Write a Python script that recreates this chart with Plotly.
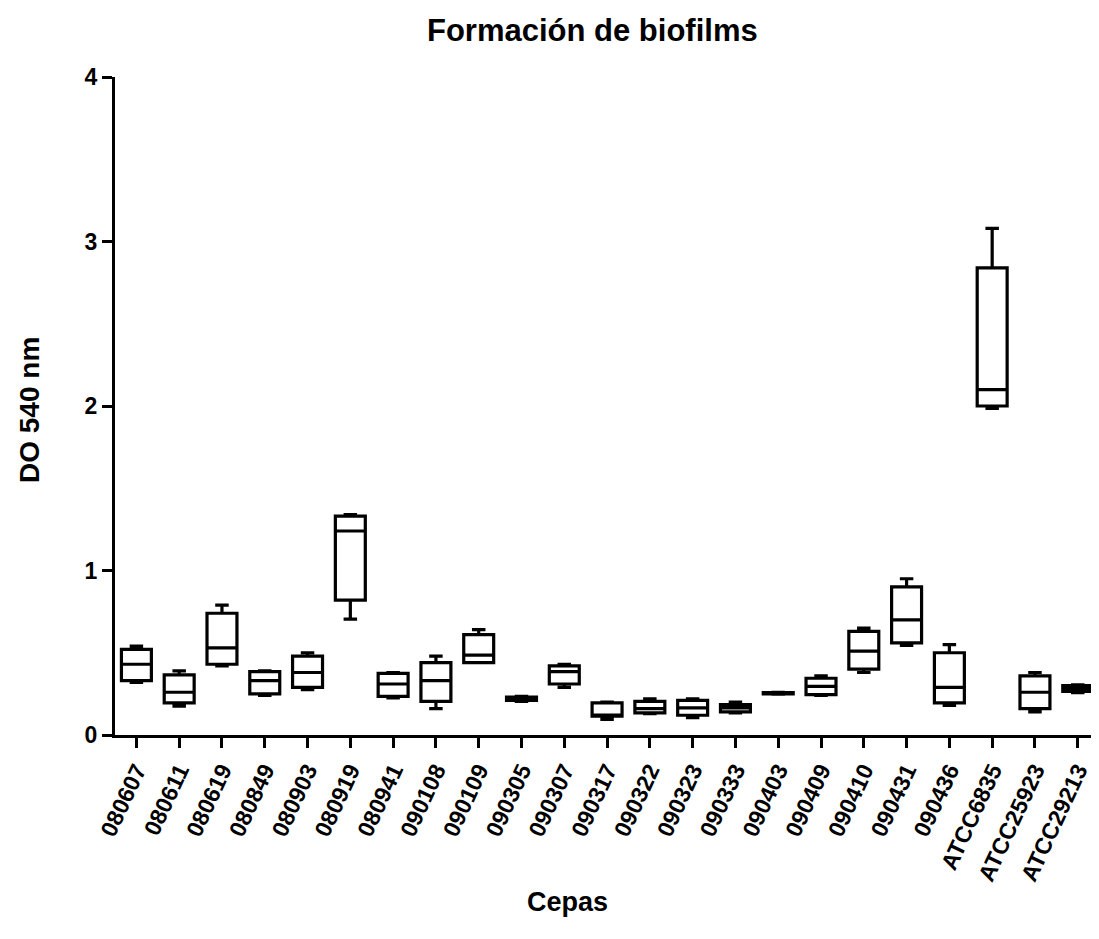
import plotly.graph_objects as go

cepas = ["080607", "080611", "080619", "080849", "080903", "080919", "080941",
         "090108", "090109", "090305", "090307", "090317", "090322", "090323",
         "090333", "090403", "090409", "090410", "090431", "090436",
         "ATCC6835", "ATCC25923", "ATCC29213"]

upper = [0.54, 0.39, 0.79, 0.39, 0.50, 1.34, 0.38, 0.48, 0.64, 0.235, 0.43, 0.20,
         0.22, 0.22, 0.20, 0.26, 0.36, 0.65, 0.95, 0.55, 3.08, 0.38, 0.305]
q3 = [0.52, 0.365, 0.74, 0.385, 0.48, 1.33, 0.375, 0.44, 0.61, 0.23, 0.42, 0.195,
      0.205, 0.21, 0.185, 0.258, 0.345, 0.63, 0.90, 0.50, 2.84, 0.36, 0.30]
median = [0.43, 0.26, 0.53, 0.33, 0.38, 1.24, 0.31, 0.33, 0.485, 0.22, 0.385, 0.12,
          0.16, 0.165, 0.165, 0.255, 0.295, 0.51, 0.70, 0.29, 2.10, 0.26, 0.285]
q1 = [0.33, 0.195, 0.43, 0.25, 0.29, 0.82, 0.235, 0.205, 0.44, 0.21, 0.31, 0.115,
      0.135, 0.12, 0.14, 0.25, 0.245, 0.40, 0.56, 0.195, 2.00, 0.16, 0.265]
lower = [0.32, 0.175, 0.42, 0.24, 0.275, 0.705, 0.225, 0.16, 0.44, 0.205, 0.29, 0.095,
         0.13, 0.105, 0.135, 0.248, 0.24, 0.38, 0.545, 0.18, 1.985, 0.14, 0.258]

y_ticks = [0, 1, 2, 3, 4]

FONT = "Arial, 'Liberation Sans', sans-serif"

# page offset (body margin) of 8px
OFF = 8
W, H = 1099 - OFF, 939 - OFF
L, R, T, B = 115 - OFF, 2, 77 - OFF, H - (735 - OFF)
PW, PH = W - L - R, H - T - B


def px(xp):
    return (xp - OFF - L) / PW


def py(yp):
    return (H - B - (yp - OFF)) / PH


fig = go.Figure()
fig.add_trace(go.Box(
    x=cepas, q1=q1, median=median, q3=q3, lowerfence=lower, upperfence=upper,
    line=dict(color="black", width=3.2), fillcolor="white",
    width=0.7, whiskerwidth=0.45, showlegend=False, hoverinfo="skip",
))

fig.update_layout(
    width=W, height=H,
    margin=dict(l=L, r=R, t=T, b=B),
    plot_bgcolor="white", paper_bgcolor="white",
    font=dict(family=FONT, color="black"),
    showlegend=False,
)
fig.update_xaxes(
    type="category", range=[-0.5, 22.45],
    showline=True, linecolor="black", linewidth=3,
    ticks="outside", ticklen=10, tickwidth=3, tickcolor="black",
    tickangle=-65, tickfont=dict(size=23, family=FONT, weight="bold"),
    showgrid=False, zeroline=False,
)
fig.update_yaxes(
    range=[0, 4], tickvals=y_ticks,
    showline=True, linecolor="black", linewidth=3,
    ticks="outside", ticklen=10, tickwidth=3, tickcolor="black",
    tickfont=dict(size=23, family=FONT, weight="bold"),
    showgrid=False, zeroline=False,
)

fig.add_annotation(text="<b>Formación de biofilms</b>", xref="paper", yref="paper",
                   x=px(592), y=py(30), xanchor="center", yanchor="middle",
                   showarrow=False, font=dict(size=31, family=FONT))
fig.add_annotation(text="<b>Cepas</b>", xref="paper", yref="paper",
                   x=px(567), y=py(902), xanchor="center", yanchor="middle",
                   showarrow=False, font=dict(size=27, family=FONT))
fig.add_annotation(text="<b>DO 540 nm</b>", xref="paper", yref="paper",
                   x=px(30), y=py(410), xanchor="center", yanchor="middle",
                   textangle=-90, showarrow=False, font=dict(size=28, family=FONT))

fig.write_html("out.html")
